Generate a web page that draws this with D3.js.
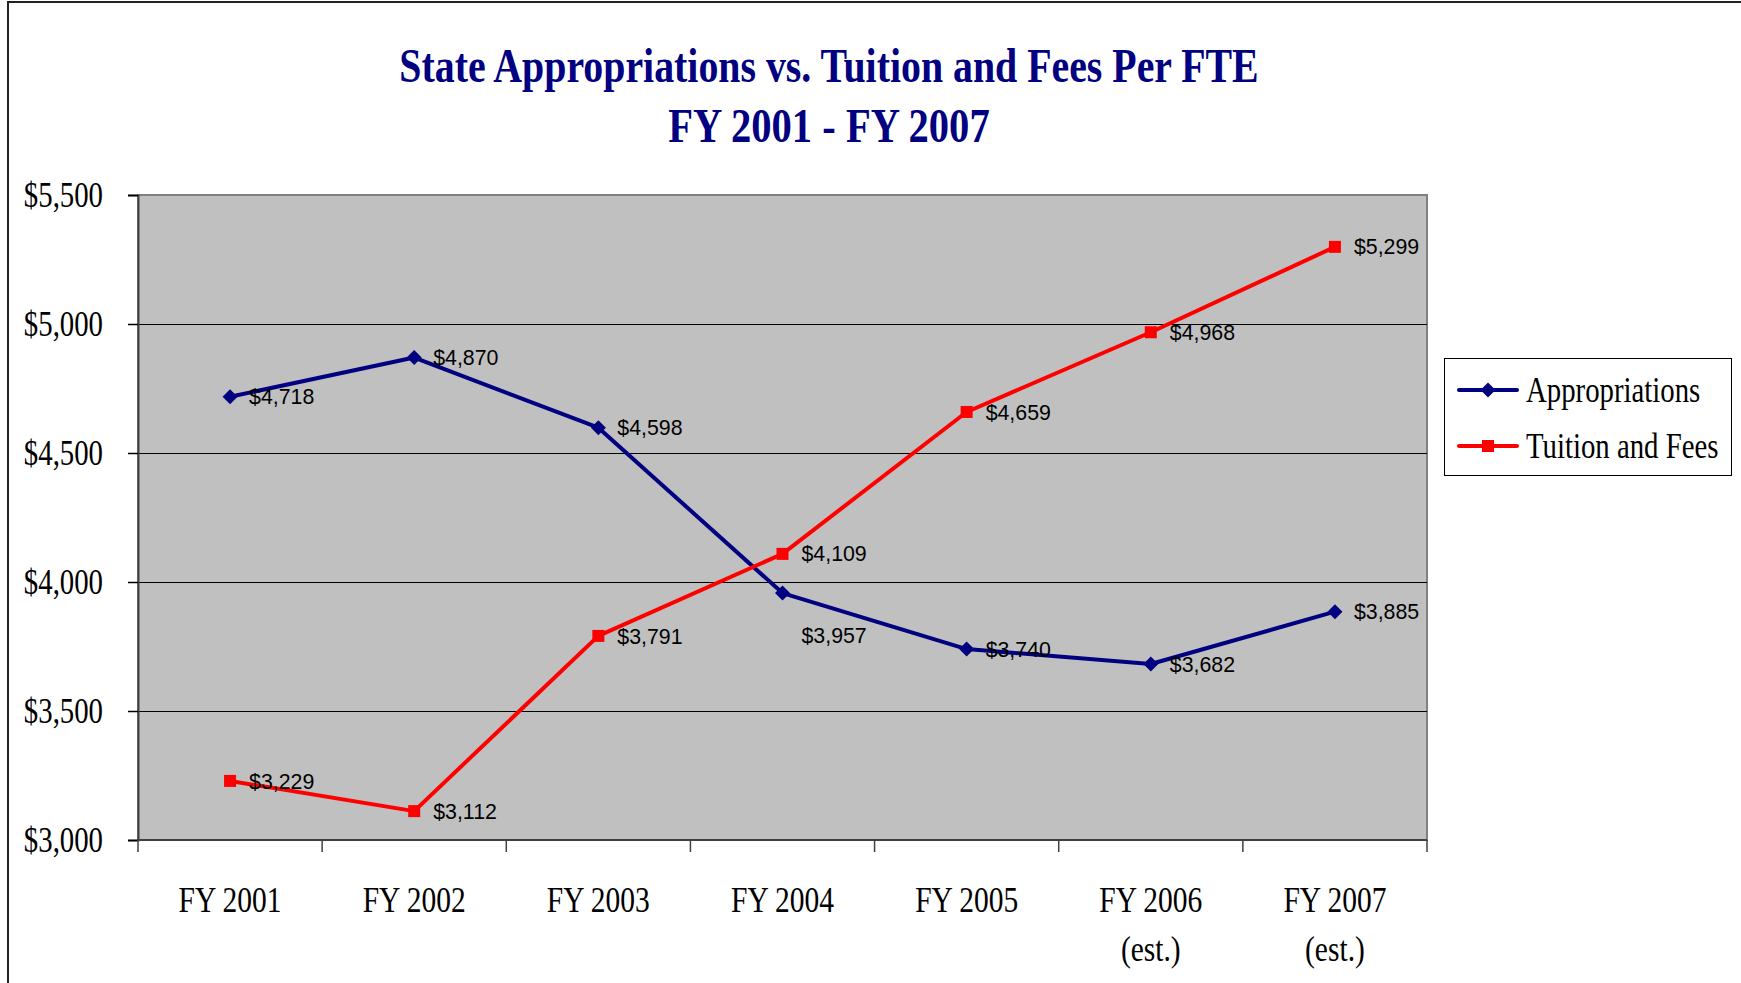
<!DOCTYPE html>
<html>
<head>
<meta charset="utf-8">
<script src="https://cdn.jsdelivr.net/npm/d3@7/dist/d3.min.js"></script>
<style>
  html, body { margin: 0; padding: 0; background: #fff; }
  svg { display: block; }
</style>
</head>
<body>
<svg id="chart" width="1741" height="983"></svg>
<script>
// ---- data ----
const categories = [["FY 2001"], ["FY 2002"], ["FY 2003"], ["FY 2004"], ["FY 2005"], ["FY 2006", "(est.)"], ["FY 2007", "(est.)"]];
const appropriations = [4718, 4870, 4598, 3957, 3740, 3682, 3885];
const tuitionFees = [3229, 3112, 3791, 4109, 4659, 4968, 5299];
const yTicks = [3000, 3500, 4000, 4500, 5000, 5500];
const seriesNames = ["Appropriations", "Tuition and Fees"];
const titleLines = ["State Appropriations vs. Tuition and Fees Per FTE", "FY 2001 - FY 2007"];

// ---- layout ----
const W = 1741, H = 983;
const plot = { left: 138, top: 195, right: 1427, bottom: 840 };
const SX = 0.8; // horizontal condensation of serif text seen in reference
const svg = d3.select("#chart");

const x = d3.scaleBand().domain(d3.range(categories.length)).range([plot.left, plot.right]).padding(0);
const cx = i => x(i) + x.bandwidth() / 2;
const y = d3.scaleLinear().domain([3000, 5500]).range([plot.bottom, plot.top]);

function scaledText(parent, tx, ty, str, opts) {
  const g = parent.append("g").attr("transform", `translate(${tx},${ty}) scale(${opts.sx || SX},1)`);
  const t = g.append("text")
    .attr("x", 0).attr("y", 0)
    .attr("text-anchor", opts.anchor || "start")
    .attr("dominant-baseline", opts.baseline || "alphabetic")
    .style("font-family", opts.family || "'Liberation Serif', 'Times New Roman', serif")
    .style("font-size", (opts.size || 36) + "px")
    .style("font-weight", opts.weight || "normal")
    .style("fill", opts.color || "#000")
    .text(str);
  return t;
}

// outer frame
svg.append("rect").attr("x", 8).attr("y", 2).attr("width", W + 50).attr("height", H + 50)
  .attr("fill", "#fff").attr("stroke", "#222").attr("stroke-width", 2);

// title
scaledText(svg, 829, 82, titleLines[0], { anchor: "middle", size: 48, weight: "bold", color: "#000080", sx: 0.83 });
scaledText(svg, 829, 142, titleLines[1], { anchor: "middle", size: 48, weight: "bold", color: "#000080", sx: 0.845 });

// plot background
svg.append("rect").attr("x", plot.left).attr("y", plot.top)
  .attr("width", plot.right - plot.left).attr("height", plot.bottom - plot.top)
  .attr("fill", "#C0C0C0").attr("stroke", "#808080").attr("stroke-width", 2);

// gridlines
svg.append("g").selectAll("line").data(yTicks.filter(v => v > 3000 && v < 5500)).join("line")
  .attr("x1", plot.left).attr("x2", plot.right)
  .attr("y1", d => Math.round(y(d)) + 0.5).attr("y2", d => Math.round(y(d)) + 0.5)
  .attr("stroke", "#000").attr("stroke-width", 1);

// y axis
const yAxis = svg.append("g").attr("transform", `translate(${plot.left},0)`)
  .call(d3.axisLeft(y).tickValues(yTicks).tickFormat(d3.format("$,")).tickSize(10).tickPadding(0));
yAxis.select(".domain").attr("stroke", "#404040").attr("stroke-width", 2);
yAxis.selectAll(".tick line").attr("stroke", "#000").attr("stroke-width", 1.5);
yAxis.selectAll(".tick text")
  .attr("x", -35 / SX).attr("dy", "0.33em")
  .attr("transform", `scale(${SX},1)`)
  .style("font-family", "'Liberation Serif', 'Times New Roman', serif")
  .style("font-size", "36px").style("fill", "#000");

// x axis line and ticks
svg.append("line").attr("x1", plot.left).attr("x2", plot.right)
  .attr("y1", plot.bottom).attr("y2", plot.bottom)
  .attr("stroke", "#404040").attr("stroke-width", 2);
const bounds = d3.range(categories.length + 1).map(i => i < categories.length ? x(i) : plot.right);
svg.append("g").selectAll("line").data(bounds).join("line")
  .attr("x1", d => d).attr("x2", d => d)
  .attr("y1", plot.bottom).attr("y2", plot.bottom + 12)
  .attr("stroke", "#404040").attr("stroke-width", 1.5);
categories.forEach((lines, i) => {
  lines.forEach((ln, j) => {
    scaledText(svg, cx(i), 912 + j * 49, ln, { anchor: "middle", size: 36, sx: 0.82 });
  });
});

// series
const lineGen = d3.line().x((d, i) => cx(i)).y(d => y(d));
const series = [
  { name: seriesNames[0], values: appropriations, color: "#000080", marker: "diamond" },
  { name: seriesNames[1], values: tuitionFees, color: "#FF0000", marker: "square" }
];

function drawMarker(g, type, px, py, color) {
  if (type === "diamond") {
    g.append("path").attr("d", `M${px},${py - 7.5}L${px + 7.5},${py}L${px},${py + 7.5}L${px - 7.5},${py}Z`).attr("fill", color);
  } else {
    g.append("rect").attr("x", px - 6).attr("y", py - 6).attr("width", 12).attr("height", 12).attr("fill", color);
  }
}

const marks = svg.append("g");
series.forEach(s => {
  marks.append("path").datum(s.values).attr("d", lineGen)
    .attr("fill", "none").attr("stroke", s.color).attr("stroke-width", 4).attr("stroke-linejoin", "round");
});
series.forEach(s => {
  s.values.forEach((v, i) => drawMarker(marks, s.marker, cx(i), y(v), s.color));
});

// data labels
const fmt = d3.format("$,");
const labels = svg.append("g");
series.forEach((s, si) => {
  s.values.forEach((v, i) => {
    // one label (Appropriations, FY 2004) sits below its point in the reference
    const below = (si === 0 && i === 3);
    scaledText(labels, cx(i) + 19, y(v) + (below ? 42 : 0), fmt(v),
      { size: 22, family: "'Liberation Sans', Arial, sans-serif", baseline: "central", sx: 0.97 });
  });
});

// legend
const lg = svg.append("g");
lg.append("rect").attr("x", 1444.5).attr("y", 358.5).attr("width", 287).attr("height", 117)
  .attr("fill", "#fff").attr("stroke", "#000").attr("stroke-width", 1);
series.forEach((s, i) => {
  const ly = 390 + i * 56;
  lg.append("line").attr("x1", 1459).attr("x2", 1517).attr("y1", ly).attr("y2", ly)
    .attr("stroke", s.color).attr("stroke-width", 4).attr("stroke-linecap", "round");
  drawMarker(lg, s.marker, 1488, ly, s.color);
  scaledText(lg, 1526, ly, s.name, { size: 36, baseline: "central" });
});
</script>
</body>
</html>
